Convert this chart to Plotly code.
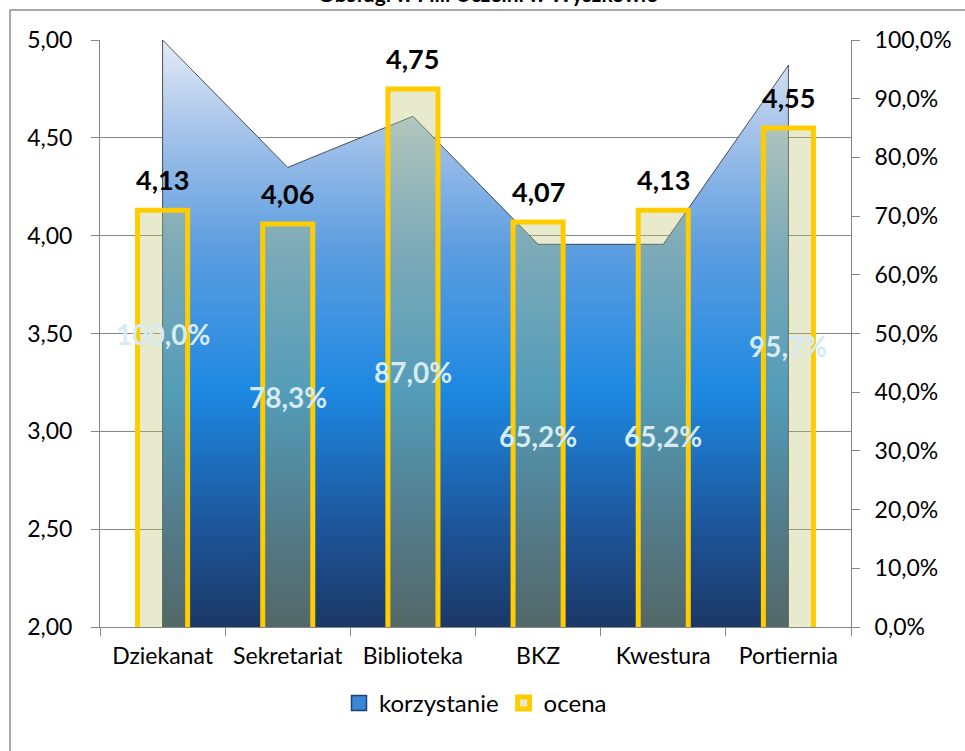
import plotly.graph_objects as go

categories = ["Dziekanat", "Sekretariat", "Biblioteka", "BKZ", "Kwestura", "Portiernia"]
korzystanie = [100.0, 78.3, 87.0, 65.2, 65.2, 95.7]   # % (right axis)
ocena = [4.13, 4.06, 4.75, 4.07, 4.13, 4.55]          # score (left axis)
left_ticks = [2.0, 2.5, 3.0, 3.5, 4.0, 4.5, 5.0]
right_ticks = [0, 10, 20, 30, 40, 50, 60, 70, 80, 90, 100]
title_text = "Obsługi w Filii Uczelni w Wyszkowie"

FONT = "Lato"


def pl(v, d):
    return f"{v:.{d}f}".replace(".", ",")


fig = go.Figure()

# area (closed polygon down to the axis baseline at first/last category)
area_x = [categories[0]] + categories + [categories[-1]]
area_y = [right_ticks[0]] + korzystanie + [right_ticks[0]]
fig.add_trace(go.Scatter(
    x=area_x, y=area_y, name="korzystanie", mode="lines",
    fill="toself",
    line=dict(color="rgba(20,20,30,0.9)", width=0.8),
    fillgradient=dict(type="vertical", start=0, stop=100,
                      colorscale=[[0.0, "#1b3866"], [0.15, "#1d5194"], [0.4, "#1d88e2"],
                                  [0.65, "#5e9ee0"], [0.85, "#a7c4ea"], [1.0, "#e3ebf6"]]),
    yaxis="y", showlegend=False, hoverinfo="skip",
))

# legend proxy for the area series
fig.add_trace(go.Scatter(
    x=[None], y=[None], name="korzystanie", mode="markers",
    marker=dict(symbol="square", size=15, color="#3a86d6",
                line=dict(color="#1d3f73", width=1.5)),
    yaxis="y", showlegend=True,
))

# bars
fig.add_trace(go.Bar(
    x=categories, y=ocena, name="ocena", yaxis="y2", width=0.4,
    marker=dict(color="rgba(185,195,110,0.35)", line=dict(color="#ffcc00", width=5)),
    hoverinfo="skip",
))

annotations = []
for c, v in zip(categories, korzystanie):
    annotations.append(dict(
        x=c, y=v / 2, xref="x", yref="y", showarrow=False,
        text="<b>" + pl(v, 1) + "%</b>",
        font=dict(family=FONT, size=28, color="#d6ebf3"),
    ))
for c, v in zip(categories, ocena):
    annotations.append(dict(
        x=c, y=v, xref="x", yref="y2", showarrow=False, yanchor="bottom", yshift=12,
        text="<b>" + pl(v, 2) + "</b>",
        font=dict(family=FONT, size=27, color="black"),
    ))
annotations.append(dict(
    x=0.5166, y=1.0545, xref="paper", yref="paper", xanchor="center", yanchor="bottom",
    showarrow=False, text="<b>" + title_text + "</b>",
    font=dict(family=FONT, size=21, color="black"),
))

axis_col = "#868686"
fig.update_layout(
    width=965, height=751,
    margin=dict(l=100, r=114, t=40, b=124),
    paper_bgcolor="white", plot_bgcolor="white",
    separators=", ",
    font=dict(family=FONT, size=23, color="black"),
    xaxis=dict(showline=True, linecolor=axis_col, linewidth=1, ticks="outside",
               tickson="boundaries", ticklen=8, tickcolor=axis_col, showgrid=False,
               tickfont=dict(size=23), ticklabelstandoff=8),
    yaxis=dict(side="right", range=[0, 100], tickvals=right_ticks,
               ticktext=[pl(t, 1) + "%" for t in right_ticks], showgrid=False,
               showline=True, linecolor=axis_col, ticks="outside", ticklen=8,
               tickcolor=axis_col, zeroline=False, tickfont=dict(size=23),
               ticklabelstandoff=10),
    yaxis2=dict(side="left", overlaying="y", range=[2, 5], tickvals=left_ticks,
                ticktext=[pl(t, 2) for t in left_ticks], showgrid=True,
                gridcolor=axis_col, gridwidth=1,
                showline=True, linecolor=axis_col, ticks="outside", ticklen=8,
                tickcolor=axis_col, zeroline=False, tickfont=dict(size=23),
                ticklabelstandoff=14),
    legend=dict(orientation="h", x=0.5, xanchor="center", y=-0.13, yanchor="middle",
                font=dict(size=24), itemwidth=30, tracegroupgap=0),
    annotations=annotations,
    shapes=[dict(type="rect", xref="paper", yref="paper",
                 x0=-0.1198, x1=1.2, y0=-0.3, y1=1.0511,
                 line=dict(color="#8c8c8c", width=1.5), layer="below")],
    bargap=0.6,
)

fig.write_html("out.html")
